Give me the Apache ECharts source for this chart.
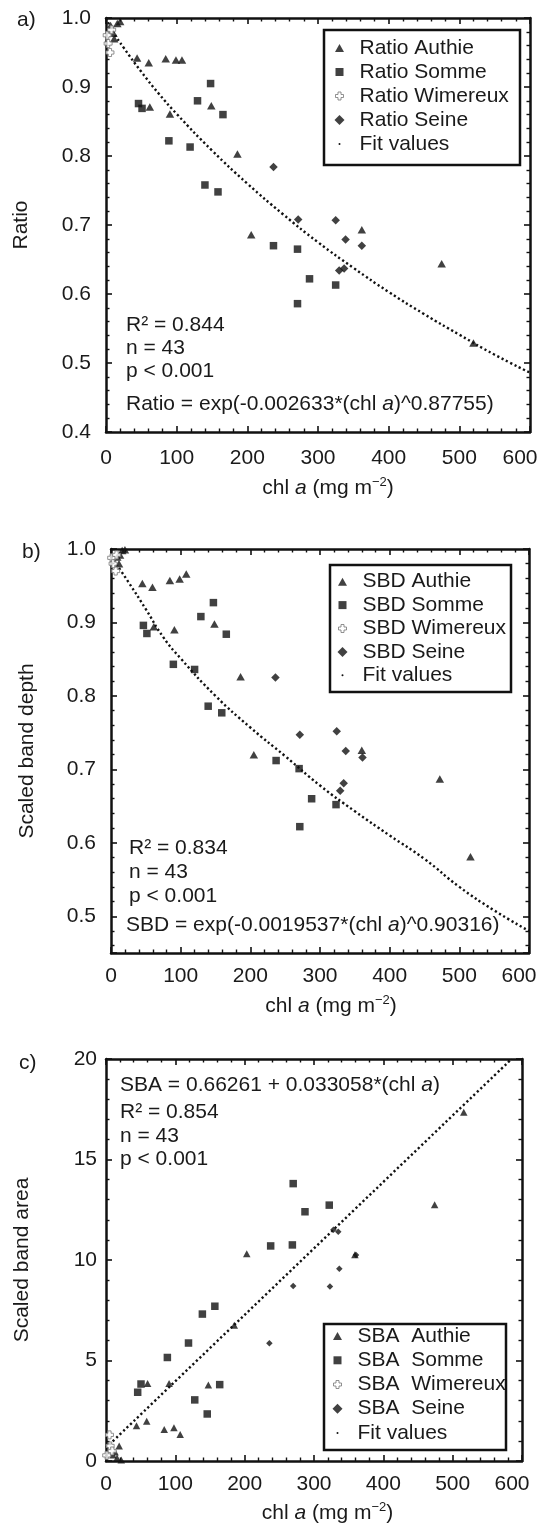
<!DOCTYPE html>
<html>
<head>
<meta charset="utf-8">
<script src="https://cdn.jsdelivr.net/npm/echarts@6.0.0/dist/echarts.min.js"></script>
<style>
  html, body { margin: 0; padding: 0; background: #fff; }
  #chart { width: 542px; height: 1526px; }
</style>
</head>
<body>
<div id="chart"></div>
<script>
// values: [chl a, value]
const ratioAuthie = [[6.5,0.989],[10.5,0.978],[11.5,0.970],[16,0.992],[20,0.995],[44,0.942],[60.5,0.935],[62,0.871],[84.5,0.941],[90.5,0.861],[99,0.939],[107.5,0.939],[149,0.873],[186,0.803],[205.5,0.686],[362,0.693],[475,0.644],[520,0.529]];
const ratioSomme = [[46,0.876],[51,0.869],[89,0.822],[119,0.813],[129.5,0.880],[140,0.758],[148,0.905],[158.5,0.748],[165.5,0.860],[237,0.670],[271,0.665],[271,0.586],[288,0.622],[325,0.613]];
const ratioWimereux = [[1.7,0.975],[5.6,0.950],[3,0.963],[8,0.983]];
const ratioSeine = [[237,0.784],[272,0.708],[325,0.707],[330,0.634],[337,0.637],[339,0.679],[362,0.670]];
const ratioFitX = [0,10,25,50,75,100,150,200,250,300,350,400,450,500,550,600];
const ratioFitY = [1.0,0.980,0.957,0.922,0.890,0.861,0.808,0.760,0.716,0.675,0.638,0.603,0.571,0.541,0.512,0.486];

const sbdAuthie = [[9,0.989],[11.5,0.980],[13,0.992],[16,0.998],[20,0.999],[45,0.953],[59.5,0.948],[61.5,0.894],[84.5,0.957],[91,0.890],[98.5,0.959],[108,0.966],[148.5,0.898],[186,0.826],[205,0.720],[360,0.726],[472,0.687],[516,0.581]];
const sbdSomme = [[46.5,0.896],[51.5,0.885],[89.5,0.843],[120,0.836],[129,0.908],[139.5,0.786],[147,0.927],[159,0.777],[165.5,0.884],[237,0.712],[270,0.701],[271,0.622],[288,0.660],[323,0.652]];
const sbdWimereux = [[1,0.988],[6.7,0.970],[3,0.980],[8,0.992]];
const sbdSeine = [[236,0.825],[271,0.747],[324,0.752],[329,0.671],[334,0.681],[337,0.725],[361,0.716]];
const sbdFitX = [0,25,50,75,100,150,200,250,300,350,400,450,500,550,600];
const sbdFitY = [0.99,0.955,0.918,0.880,0.851,0.800,0.757,0.718,0.678,0.643,0.610,0.578,0.540,0.508,0.480];

const sbaAuthie = [[10,0.3],[13,0.45],[16,0.15],[19,0.75],[22,0.05],[44,1.75],[58.7,1.98],[60,3.86],[84,1.57],[91,3.86],[98,1.65],[107,1.32],[147.6,3.78],[185,6.75],[203,10.31],[359,10.26],[474,12.75],[516,17.35]];
const sbaSomme = [[45.7,3.42],[50.5,3.83],[88.5,5.15],[119,5.87],[128,3.04],[139,7.31],[146,2.34],[157,7.7],[164,3.80],[237.5,10.7],[268.8,10.75],[270,13.8],[287,12.4],[322,12.73]];
const sbaWimereux = [[5,1.3],[6,0.75],[1,0.28],[9,0.5]];
const sbaSeine = [[235.6,5.86],[270,8.71],[323,8.68],[328,11.5],[335,11.4],[336.5,9.56],[360.6,10.25]];
const sbaFitX = [0,585];
const sbaFitY = [0.66,20];

const xTicks = { min: 0, max: 600, interval: 100 };

const FONT = '"Liberation Sans", Arial, Helvetica, sans-serif';
const ink = '#111';
const txt = '#1a1a1a';
const crossPath = 'path://M3,0H7V3H10V7H7V10H3V7H0V3H3Z';
// legend icons drawn inside a fixed 30x11 box so they keep their shape
const box = 'path://M0,0M30,11';
const icons = {
  tri: box + 'M15,1.5L19.5,9.5L10.5,9.5Z',
  sq: box + 'M11,1.5H19V9.5H11Z',
  cross: box + 'M13.5,1.5H16.5V4H19V7H16.5V9.5H13.5V7H11V4H13.5Z',
  dia: box + 'M15,0.5L20,5.5L15,10.5L10,5.5Z',
  dot: box + 'M14,5.5A1,1,0,1,0,16,5.5A1,1,0,1,0,14,5.5Z'
};

function pairs(xs, ys) {
  return xs.map((x, i) => [x, ys[i]]);
}

function axis(o) {
  return Object.assign({
    type: 'value',
    axisLine: { show: true, onZero: false, lineStyle: { color: ink, width: 2.5 } },
    axisTick: { show: true, inside: true, length: 6, lineStyle: { color: ink, width: 1.6 } },
    minorTick: { show: true, splitNumber: 5, length: 3.5, lineStyle: { color: ink, width: 1.4 } },
    splitLine: { show: false },
    minorSplitLine: { show: false },
    axisLabel: { show: false }
  }, o);
}

function label(margin, formatter) {
  return { show: true, fontFamily: FONT, fontSize: 21, color: txt, margin: margin, formatter: formatter };
}

const chlName = '{t|chl }{i|a}{t| (mg m}{s|−2}{t|)}';
function chlStyle(padLeft) {
  const base = { fontFamily: FONT, fontSize: 21, color: txt, lineHeight: 24 };
  return Object.assign({}, base, {
    padding: [0, 0, 0, padLeft],
    rich: {
      t: base,
      i: Object.assign({}, base, { fontStyle: 'italic' }),
      s: Object.assign({}, base, { fontSize: 13, verticalAlign: 'top' })
    }
  });
}

function xPair(grid, gap, padLeft, margin) {
  return [
    axis(Object.assign({ gridIndex: grid, position: 'bottom',
      axisLabel: label(margin, v => v === 600 ? '{m|600}' : String(v)),
      name: chlName, nameLocation: 'middle', nameGap: gap, nameTextStyle: chlStyle(padLeft) }, xTicks)),
    axis(Object.assign({ gridIndex: grid, position: 'top' }, xTicks))
  ];
}

function yPair(grid, range, name, gap, margin, fmt) {
  const left = axis(Object.assign({ gridIndex: grid, position: 'left',
    axisLabel: Object.assign(label(margin, fmt), { showMinLabel: range.showMin !== false }),
    name: name, nameLocation: 'middle', nameGap: gap, nameRotate: 90,
    nameTextStyle: { fontFamily: FONT, fontSize: 21, color: txt } }, range.scale));
  const right = axis(Object.assign({ gridIndex: grid, position: 'right' }, range.scale));
  return [left, right];
}

const xAxes = [].concat(xPair(0, 44, 20, 16), xPair(1, 41, 22, 13), xPair(2, 40, 27, 13));
xAxes.forEach(a => {
  if (a.axisLabel.show) a.axisLabel.rich = { m: { fontFamily: FONT, fontSize: 21, color: txt, padding: [0, 20, 0, 0] } };
});

const yAxes = [].concat(
  yPair(0, { scale: { min: 0.4, max: 1.0, interval: 0.1 } }, 'Ratio', 74, 15, v => v.toFixed(1)),
  yPair(1, { scale: { min: 0.45, max: 1.0, splitNumber: 5 }, showMin: false }, 'Scaled band depth', 73, 15, v => v.toFixed(1)),
  yPair(2, { scale: { min: 0, max: 20, interval: 5 } }, 'Scaled band area', 73, 9, v => String(v))
);

function pts(name, data, ai, kind, small) {
  const s = { name: name, type: 'scatter', xAxisIndex: ai, yAxisIndex: ai, data: data,
    itemStyle: { color: ink }, z: 3, silent: true };
  if (kind === 'tri') { s.symbol = 'triangle'; s.symbolSize = small ? [7.5, 7] : [8.5, 7.5]; }
  if (kind === 'sq') { s.symbol = 'rect'; s.symbolSize = 7.5; }
  if (kind === 'cross') { s.symbol = crossPath; s.symbolSize = 8; s.itemStyle = { color: '#fff', borderColor: '#777', borderWidth: 1 }; s.z = 4; }
  if (kind === 'dia') { s.symbol = 'diamond'; s.symbolSize = small ? 6.5 : 8.5; }
  return s;
}

function fit(xs, ys, ai) {
  return { name: 'Fit values', type: 'line', xAxisIndex: ai * 2, yAxisIndex: ai * 2,
    data: pairs(xs, ys), smooth: true, symbol: 'none', silent: true, z: 2,
    itemStyle: { color: ink },
    lineStyle: { color: ink, width: 2.4, type: [2.2, 2.6] } };
}

function legend(names, left, top, lineH) {
  return {
    orient: 'vertical', left: left, top: top, padding: 0, itemGap: 0,
    itemWidth: 30, itemHeight: 11, selectedMode: false,
    textStyle: { fontFamily: FONT, fontSize: 21, color: txt, lineHeight: lineH },
    data: [
      { name: names[0], icon: icons.tri, itemStyle: { borderWidth: 0 } },
      { name: names[1], icon: icons.sq, itemStyle: { borderWidth: 0 } },
      { name: names[2], icon: icons.cross, itemStyle: { borderWidth: 1 } },
      { name: names[3], icon: icons.dia, itemStyle: { borderWidth: 0 } },
      { name: 'Fit values', icon: icons.dot, itemStyle: { borderWidth: 0 } }
    ]
  };
}

function note(x, y, text) {
  return { type: 'text', x: x, y: y, silent: true, z: 10,
    style: { text: text, fontFamily: FONT, fontSize: 21, fill: txt, align: 'left', verticalAlign: 'middle',
      rich: { i: { fontFamily: FONT, fontSize: 21, fontStyle: 'italic', fill: txt } } } };
}

function frame(x, y, w, h) {
  return { type: 'rect', silent: true, z: 10, shape: { x: x, y: y, width: w, height: h },
    style: { fill: 'none', stroke: ink, lineWidth: 2.5 } };
}

const option = {
  backgroundColor: '#fff',
  animation: false,
  grid: [
    { left: 106, top: 18, width: 424, height: 414 },
    { left: 111, top: 549, width: 418, height: 404 },
    { left: 106, top: 1059, width: 416, height: 403 }
  ],
  xAxis: xAxes,
  yAxis: yAxes,
  legend: [
    legend(['Ratio Authie', 'Ratio Somme', 'Ratio Wimereux', 'Ratio Seine'], 324, 36, 24),
    legend(['SBD Authie', 'SBD Somme', 'SBD Wimereux', 'SBD Seine'], 327, 570, 23.4),
    legend(['SBA  Authie', 'SBA  Somme', 'SBA  Wimereux', 'SBA  Seine'], 322, 1324, 24.2)
  ],
  series: [
    fit(ratioFitX, ratioFitY, 0),
    pts('Ratio Authie', ratioAuthie, 0, 'tri'),
    pts('Ratio Somme', ratioSomme, 0, 'sq'),
    pts('Ratio Seine', ratioSeine, 0, 'dia'),
    pts('Ratio Wimereux', ratioWimereux, 0, 'cross'),
    fit(sbdFitX, sbdFitY, 1),
    pts('SBD Authie', sbdAuthie, 2, 'tri'),
    pts('SBD Somme', sbdSomme, 2, 'sq'),
    pts('SBD Seine', sbdSeine, 2, 'dia'),
    pts('SBD Wimereux', sbdWimereux, 2, 'cross'),
    fit(sbaFitX, sbaFitY, 2),
    pts('SBA  Authie', sbaAuthie, 4, 'tri', true),
    pts('SBA  Somme', sbaSomme, 4, 'sq'),
    pts('SBA  Seine', sbaSeine, 4, 'dia', true),
    pts('SBA  Wimereux', sbaWimereux, 4, 'cross')
  ],
  graphic: [
    frame(324, 30, 196, 135),
    frame(330, 565, 181, 127),
    frame(324, 1324, 182, 126),
    note(17, 20, 'a)'),
    note(22, 552, 'b)'),
    note(19, 1063, 'c)'),
    note(126, 325, 'R² = 0.844'),
    note(126, 348, 'n = 43'),
    note(126, 371, 'p < 0.001'),
    note(126, 404, 'Ratio = exp(-0.002633*(chl {i|a})^0.87755)'),
    note(129, 848, 'R² = 0.834'),
    note(129, 872, 'n = 43'),
    note(129, 896, 'p < 0.001'),
    note(126, 925, 'SBD = exp(-0.0019537*(chl {i|a})^0.90316)'),
    note(120, 1085, 'SBA = 0.66261 + 0.033058*(chl {i|a})'),
    note(120, 1112, 'R² = 0.854'),
    note(120, 1136, 'n = 43'),
    note(120, 1159, 'p < 0.001')
  ]
};

const chart = echarts.init(document.getElementById('chart'), null, { renderer: 'canvas' });
chart.setOption(option);
</script>
</body>
</html>
